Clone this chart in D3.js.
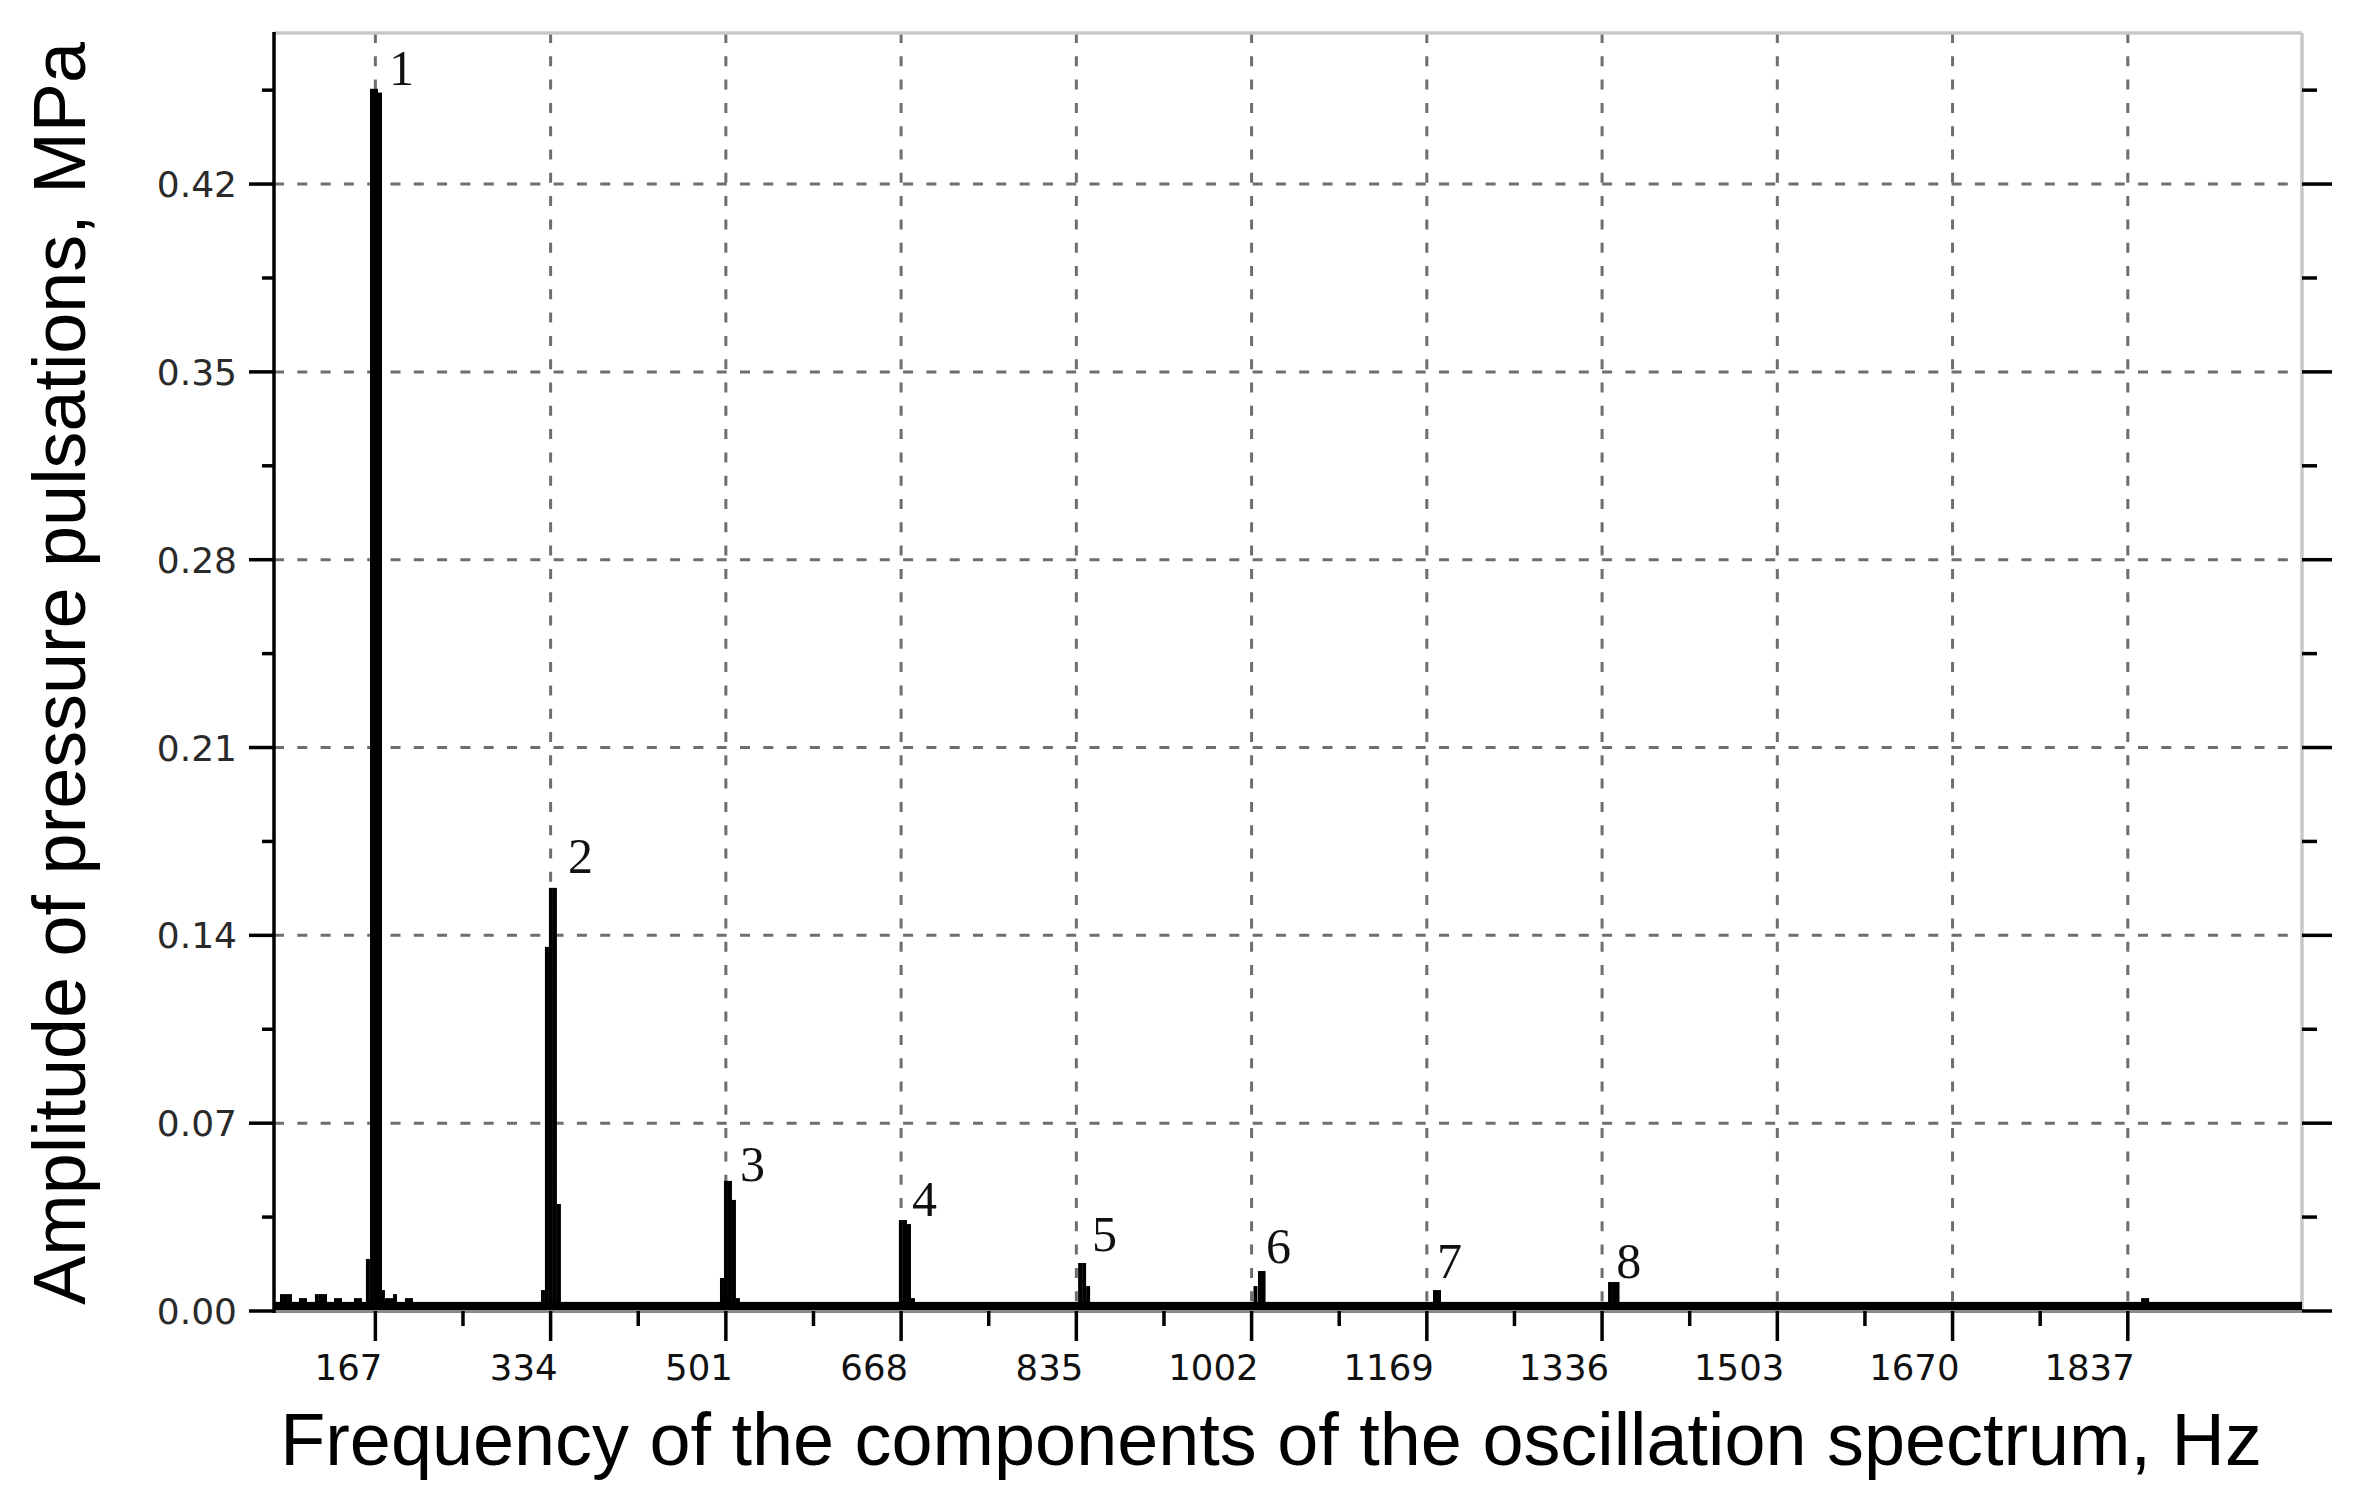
<!DOCTYPE html>
<html>
<head>
<meta charset="utf-8">
<script src="https://cdn.jsdelivr.net/npm/d3@7"></script>
<style>
  html, body { margin: 0; padding: 0; background: #fff; }
  svg { display: block; }
</style>
</head>
<body>
<svg id="chart" width="2366" height="1497"></svg>
<script>
// ---------- data ----------
const xDomain = [70.4, 2003];
const yDomain = [0, 0.4763];
const xTickValues = [167, 334, 501, 668, 835, 1002, 1169, 1336, 1503, 1670, 1837];
const xMinorTickValues = [250.5, 417.5, 584.5, 751.5, 918.5, 1085.5, 1252.5, 1419.5, 1586.5, 1753.5];
const yTickValues = [0, 0.07, 0.14, 0.21, 0.28, 0.35, 0.42];
const yTickLabels = ["0.00", "0.07", "0.14", "0.21", "0.28", "0.35", "0.42"];
const yMinorTickValues = [0.035, 0.105, 0.175, 0.245, 0.315, 0.385, 0.455];

// spectrum bins (centre frequency, Hz) and amplitudes (MPa)
const binWidth = 3.81;
const floorLevel = 0.0034;
const binFreqs = [
  78.0, 81.8, 85.6, 96.1, 99.9, 111.3, 115.2, 119.0, 129.5, 133.3, 148.5, 152.3,
  159.9, 163.8, 167.6, 171.4, 174.2, 178.1, 181.9, 185.7, 197.1, 200.9,
  326.7, 330.5, 334.3, 338.1, 341.9,
  497.3, 501.1, 504.9, 508.7, 512.5,
  667.8, 671.7, 675.5, 679.3,
  838.6, 842.4, 846.2,
  1005.7, 1010.0, 1013.4,
  1176.8, 1180.6,
  1343.6, 1347.4, 1350.7,
  1851.6, 1855.4
];
const binAmps = [
  0.0063, 0.0063, 0.0063, 0.0048, 0.0048, 0.0063, 0.0063, 0.0063, 0.0048, 0.0048, 0.0048, 0.0048,
  0.0194, 0.4555, 0.4555, 0.4541, 0.0078, 0.0048, 0.0048, 0.0063, 0.0048, 0.0048,
  0.0078, 0.1357, 0.1577, 0.1577, 0.0399,
  0.0123, 0.0485, 0.0485, 0.0414, 0.0048,
  0.0339, 0.0339, 0.0324, 0.0048,
  0.0179, 0.0179, 0.0093,
  0.0093, 0.0149, 0.0149,
  0.0078, 0.0078,
  0.0108, 0.0108, 0.0108,
  0.0048, 0.0048
];

// harmonic numbers and their anchor points (Hz, MPa)
const peakLabels = ["1", "2", "3", "4", "5", "6", "7", "8"];
const labelFreqs = [180.0, 350.5, 514.4, 678.3, 850.0, 1015.8, 1178.8, 1349.4];
const labelAmps  = [0.4569, 0.1632, 0.0485, 0.0354, 0.0224, 0.0179, 0.0123, 0.0123];

const xTitle = "Frequency of the components of the oscillation spectrum, Hz";
const yTitle = "Amplitude of pressure pulsations, MPa";

// ---------- drawing ----------
const svg = d3.select("#chart");
const pLeft = 274, pRight = 2302, pTop = 33, pBottom = 1311;
const x = d3.scaleLinear().domain(xDomain).range([pLeft, pRight]);
const y = d3.scaleLinear().domain(yDomain).range([pBottom, pTop]);

const gridColor = "#6e6e6e";

// grid lines
svg.append("g").selectAll("line").data(xTickValues).join("line")
  .attr("x1", d => x(d)).attr("x2", d => x(d))
  .attr("y1", pTop).attr("y2", pBottom)
  .attr("stroke", gridColor).attr("stroke-width", 3)
  .attr("stroke-dasharray", "10 13.3");
svg.append("g").selectAll("line").data(yTickValues.filter(d => d > 0)).join("line")
  .attr("x1", pLeft).attr("x2", pRight)
  .attr("y1", d => y(d)).attr("y2", d => y(d))
  .attr("stroke", gridColor).attr("stroke-width", 3)
  .attr("stroke-dasharray", "10 13.3");

// frame (top and right, light gray)
svg.append("line").attr("x1", pLeft).attr("x2", pRight).attr("y1", pTop).attr("y2", pTop)
  .attr("stroke", "#c8c8c8").attr("stroke-width", 3.5);
svg.append("line").attr("x1", pRight).attr("x2", pRight).attr("y1", pTop).attr("y2", pBottom)
  .attr("stroke", "#c8c8c8").attr("stroke-width", 3.5);

// bottom axis line (gray)
svg.append("line").attr("x1", pLeft).attr("x2", pRight).attr("y1", pBottom).attr("y2", pBottom)
  .attr("stroke", "#8a8a8a").attr("stroke-width", 4);

// spectrum noise floor
svg.append("rect")
  .attr("x", x(xDomain[0])).attr("width", x(xDomain[1]) - x(xDomain[0]))
  .attr("y", y(floorLevel)).attr("height", y(0) - y(floorLevel) - 1)
  .attr("fill", "#000");

// spectrum bins
const bins = binFreqs.map((f, i) => ({ f, a: binAmps[i] }));
svg.append("g").selectAll("rect").data(bins).join("rect")
  .attr("x", d => x(d.f - binWidth / 2))
  .attr("width", d => x(d.f + binWidth / 2) - x(d.f - binWidth / 2))
  .attr("y", d => y(d.a))
  .attr("height", d => y(0) - y(d.a) - 1)
  .attr("fill", "#000");

// left axis line
svg.append("line").attr("x1", pLeft).attr("x2", pLeft).attr("y1", pTop - 1).attr("y2", pBottom + 2)
  .attr("stroke", "#000").attr("stroke-width", 3.5);

// y ticks (left & right)
function tickLines(values, x1, x2) {
  svg.append("g").selectAll("line").data(values).join("line")
    .attr("x1", x1).attr("x2", x2).attr("y1", d => y(d)).attr("y2", d => y(d))
    .attr("stroke", "#000").attr("stroke-width", 3.5);
}
tickLines(yTickValues, pLeft - 25, pLeft);
tickLines(yMinorTickValues, pLeft - 12, pLeft);
tickLines(yTickValues, pRight, pRight + 30);
tickLines(yMinorTickValues, pRight, pRight + 15);

svg.append("g").selectAll("text").data(yTickValues).join("text")
  .attr("x", pLeft - 37).attr("y", d => y(d) + 13)
  .attr("text-anchor", "end")
  .attr("font-family", "DejaVu Sans, Verdana, sans-serif")
  .attr("font-size", 36).attr("fill", "#2a2a2a")
  .text((d, i) => yTickLabels[i]);

// x ticks
function xTickLines(values, len) {
  svg.append("g").selectAll("line").data(values).join("line")
    .attr("x1", d => x(d)).attr("x2", d => x(d)).attr("y1", pBottom).attr("y2", pBottom + len)
    .attr("stroke", "#000").attr("stroke-width", 3.5);
}
xTickLines(xTickValues, 30);
xTickLines(xMinorTickValues, 15);

svg.append("g").selectAll("text").data(xTickValues).join("text")
  .attr("x", d => x(d) + 7).attr("y", 1380)
  .attr("text-anchor", "end")
  .attr("font-family", "DejaVu Sans, Verdana, sans-serif")
  .attr("font-size", 35.5).attr("fill", "#111")
  .text(d => d);

// peak labels
svg.append("g").selectAll("text").data(peakLabels).join("text")
  .attr("x", (d, i) => x(labelFreqs[i]))
  .attr("y", (d, i) => y(labelAmps[i]))
  .attr("font-family", "Liberation Serif, Times New Roman, serif")
  .attr("font-size", 50).attr("fill", "#111")
  .text(d => d);

// axis titles, fitted to the reference extents
function fitText(sel, targetWidth, baseSize) {
  sel.attr("font-size", baseSize);
  const w = sel.node().getComputedTextLength();
  sel.attr("font-size", baseSize * targetWidth / w);
}
const xTitleEl = svg.append("text")
  .attr("x", (280 + 2262) / 2).attr("y", 1465)
  .attr("text-anchor", "middle")
  .attr("font-family", "Liberation Sans, Arial, sans-serif")
  .attr("fill", "#000")
  .text(xTitle);
fitText(xTitleEl, 1982, 74);

const yTitleEl = svg.append("text")
  .attr("transform", "translate(85," + ((42 + 1305) / 2) + ") rotate(-90)")
  .attr("text-anchor", "middle")
  .attr("font-family", "Liberation Sans, Arial, sans-serif")
  .attr("fill", "#000")
  .text(yTitle);
fitText(yTitleEl, 1263, 74);
</script>
</body>
</html>
